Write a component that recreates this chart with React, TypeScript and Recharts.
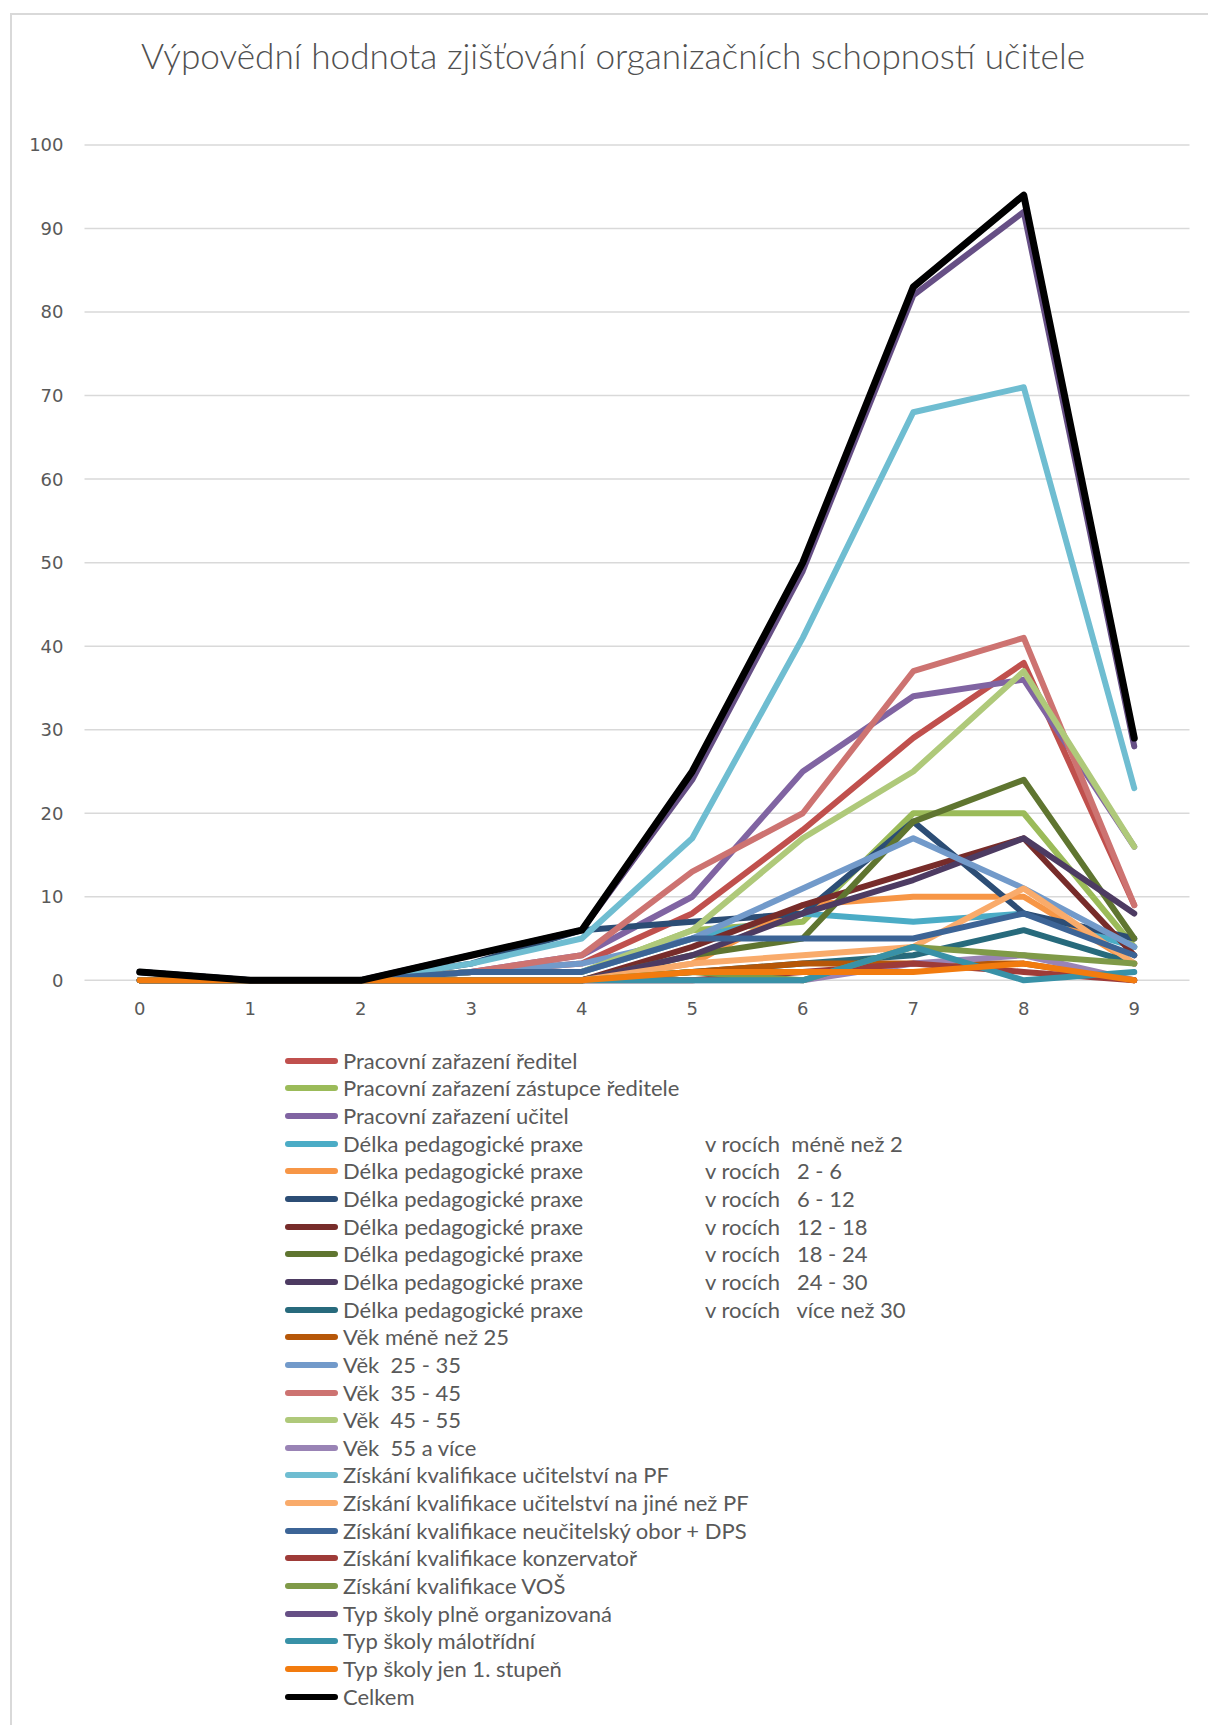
import React from 'react';
import { LineChart, Line, XAxis, YAxis, CartesianGrid, Legend } from 'recharts';

// x categories (score 0 - 9)
const scores = [0, 1, 2, 3, 4, 5, 6, 7, 8, 9];
const yTicks = [0, 10, 20, 30, 40, 50, 60, 70, 80, 90, 100];

// counts per score for every group
const reditel = [0, 0, 0, 1, 2, 8, 18, 29, 38, 9];
const zastupce = [0, 0, 0, 1, 1, 6, 7, 20, 20, 4];
const ucitel = [1, 0, 0, 1, 3, 10, 25, 34, 36, 16];
const praxeDo2 = [0, 0, 0, 1, 1, 5, 8, 7, 8, 4];
const praxe2az6 = [0, 0, 0, 0, 0, 2, 9, 10, 10, 2];
const praxe6az12 = [0, 0, 0, 2, 6, 7, 8, 19, 8, 5];
const praxe12az18 = [0, 0, 0, 0, 0, 4, 9, 13, 17, 3];
const praxe18az24 = [0, 0, 0, 0, 0, 3, 5, 19, 24, 5];
const praxe24az30 = [0, 0, 0, 0, 0, 3, 8, 12, 17, 8];
const praxeNad30 = [0, 0, 0, 0, 0, 1, 2, 3, 6, 2];
const vekDo25 = [0, 0, 0, 0, 0, 1, 2, 2, 2, 0];
const vek25az35 = [1, 0, 0, 1, 2, 5, 11, 17, 11, 4];
const vek35az45 = [0, 0, 0, 1, 3, 13, 20, 37, 41, 9];
const vek45az55 = [0, 0, 0, 1, 1, 6, 17, 25, 37, 16];
const vekNad55 = [0, 0, 0, 0, 0, 0, 0, 2, 3, 0];
const kvalPF = [1, 0, 0, 2, 5, 17, 41, 68, 71, 23];
const kvalJine = [0, 0, 0, 0, 0, 2, 3, 4, 11, 2];
const kvalDPS = [0, 0, 0, 1, 1, 5, 5, 5, 8, 3];
const kvalKonz = [0, 0, 0, 0, 0, 0, 1, 2, 1, 0];
const kvalVOS = [0, 0, 0, 0, 0, 1, 0, 4, 3, 2];
const skolaPlne = [1, 0, 0, 3, 6, 24, 49, 82, 92, 28];
const skolaMalotridni = [0, 0, 0, 0, 0, 0, 0, 4, 0, 1];
const skolaPrvni = [0, 0, 0, 0, 0, 1, 1, 1, 2, 0];
const celkem = [1, 0, 0, 3, 6, 25, 50, 83, 94, 29];

const seriesValues = [
  reditel, zastupce, ucitel, praxeDo2, praxe2az6, praxe6az12, praxe12az18, praxe18az24,
  praxe24az30, praxeNad30, vekDo25, vek25az35, vek35az45, vek45az55, vekNad55, kvalPF,
  kvalJine, kvalDPS, kvalKonz, kvalVOS, skolaPlne, skolaMalotridni, skolaPrvni, celkem,
];

// legend labels: [main text, second column]
const seriesNames: [string, string][] = [
  ['Pracovní zařazení ředitel', ''],
  ['Pracovní zařazení zástupce ředitele', ''],
  ['Pracovní zařazení učitel', ''],
  ['Délka pedagogické praxe', 'v rocích  méně než 2'],
  ['Délka pedagogické praxe', 'v rocích   2 - 6'],
  ['Délka pedagogické praxe', 'v rocích   6 - 12'],
  ['Délka pedagogické praxe', 'v rocích   12 - 18'],
  ['Délka pedagogické praxe', 'v rocích   18 - 24'],
  ['Délka pedagogické praxe', 'v rocích   24 - 30'],
  ['Délka pedagogické praxe', 'v rocích   více než 30'],
  ['Věk méně než 25', ''],
  ['Věk  25 - 35', ''],
  ['Věk  35 - 45', ''],
  ['Věk  45 - 55', ''],
  ['Věk  55 a více', ''],
  ['Získání kvalifikace učitelství na PF', ''],
  ['Získání kvalifikace učitelství na jiné než PF', ''],
  ['Získání kvalifikace neučitelský obor + DPS', ''],
  ['Získání kvalifikace konzervatoř', ''],
  ['Získání kvalifikace VOŠ', ''],
  ['Typ školy plně organizovaná', ''],
  ['Typ školy málotřídní', ''],
  ['Typ školy jen 1. stupeň', ''],
  ['Celkem', ''],
];

const seriesColors = [
  '#C0504D', '#9BBB59', '#8064A2', '#4BACC6', '#F79646', '#2C4D75',
  '#772C2A', '#5F7530', '#4D3B62', '#276A7C', '#B65708', '#729ACA',
  '#CD7371', '#AFC97A', '#9983B5', '#6FBDD1', '#F9AB6B', '#3C6496',
  '#9E3B38', '#7F9A48', '#664F85', '#3891A7', '#F27B0E', '#000000',
];

const data = scores.map((x, i) => {
  const row: Record<string, number> = { x };
  seriesValues.forEach((vals, s) => {
    row['s' + s] = vals[i];
  });
  return row;
});

const textColor = '#595959';

const LegendBox = () => (
  <div style={{ position: 'relative', width: 1208, height: 680, fontFamily: 'Lato', fontSize: 22, color: textColor }}>
    {seriesNames.map(([name, extra], i) => (
      <div key={i} style={{ position: 'absolute', left: 0, top: 6.7 + i * 27.65, height: 28, width: 1208 }}>
        <div
          style={{
            position: 'absolute', left: 285, top: 11, width: 53, height: 6, borderRadius: 3,
            background: seriesColors[i],
          }}
        />
        <span style={{ position: 'absolute', left: 343, top: 0, lineHeight: '28px', whiteSpace: 'pre' }}>{name}</span>
        {extra && (
          <span style={{ position: 'absolute', left: 705, top: 0, lineHeight: '28px', whiteSpace: 'pre' }}>{extra}</span>
        )}
      </div>
    ))}
  </div>
);

const App: React.FC = () => {
  return (
    <div style={{ position: 'absolute', left: 0, top: 0, width: 1208, height: 1725, background: '#fff', overflow: 'hidden' }}>
      {/* chart frame */}
      <div
        style={{
          position: 'absolute', left: 10, top: 13, width: 1260, height: 1760,
          borderLeft: '2px solid #D9D9D9', borderTop: '2px solid #D9D9D9',
        }}
      />
      <div
        style={{
          position: 'absolute', left: 0, top: 38, width: 1226, textAlign: 'center',
          fontFamily: 'Lato', fontSize: 35.2, fontWeight: 300, lineHeight: '34px', color: '#505050', whiteSpace: 'nowrap',
        }}
      >
        Výpovědní hodnota zjišťování organizačních schopností učitele
      </div>
      <div style={{ position: 'absolute', left: 0, top: 0 }}>
        <LineChart width={1208} height={1725} data={data} margin={{ top: 145, right: 18.5, bottom: 704.7, left: 0 }}>
          <CartesianGrid vertical={false} stroke="#D9D9D9" strokeWidth={1.5} />
          <XAxis
            dataKey="x"
            type="number"
            domain={[-0.5, 9.5]}
            ticks={scores}
            height={40}
            axisLine={false}
            tickLine={false}
            tickSize={0}
            tickMargin={22}
            tick={{ fill: textColor, fontSize: 18, fontFamily: 'DejaVu Sans' }}
          />
          <YAxis
            type="number"
            domain={[0, 100]}
            ticks={yTicks}
            width={84.5}
            axisLine={false}
            tickLine={false}
            tickSize={0}
            tickMargin={21}
            tick={{ fill: textColor, fontSize: 18, fontFamily: 'DejaVu Sans' }}
          />
          {seriesValues.map((_, s) => (
            <Line
              key={s}
              type="linear"
              dataKey={'s' + s}
              name={seriesNames[s].join(' ')}
              stroke={seriesColors[s]}
              strokeWidth={s === 23 ? 7 : 6}
              strokeLinejoin="round"
              strokeLinecap="round"
              dot={false}
              activeDot={false}
              isAnimationActive={false}
            />
          ))}
          <Legend
            layout="vertical"
            align="center"
            verticalAlign="middle"
            wrapperStyle={{ left: 0, top: 1040, width: 1208, height: 680 }}
            content={() => <LegendBox />}
          />
        </LineChart>
      </div>
    </div>
  );
};

export default App;
